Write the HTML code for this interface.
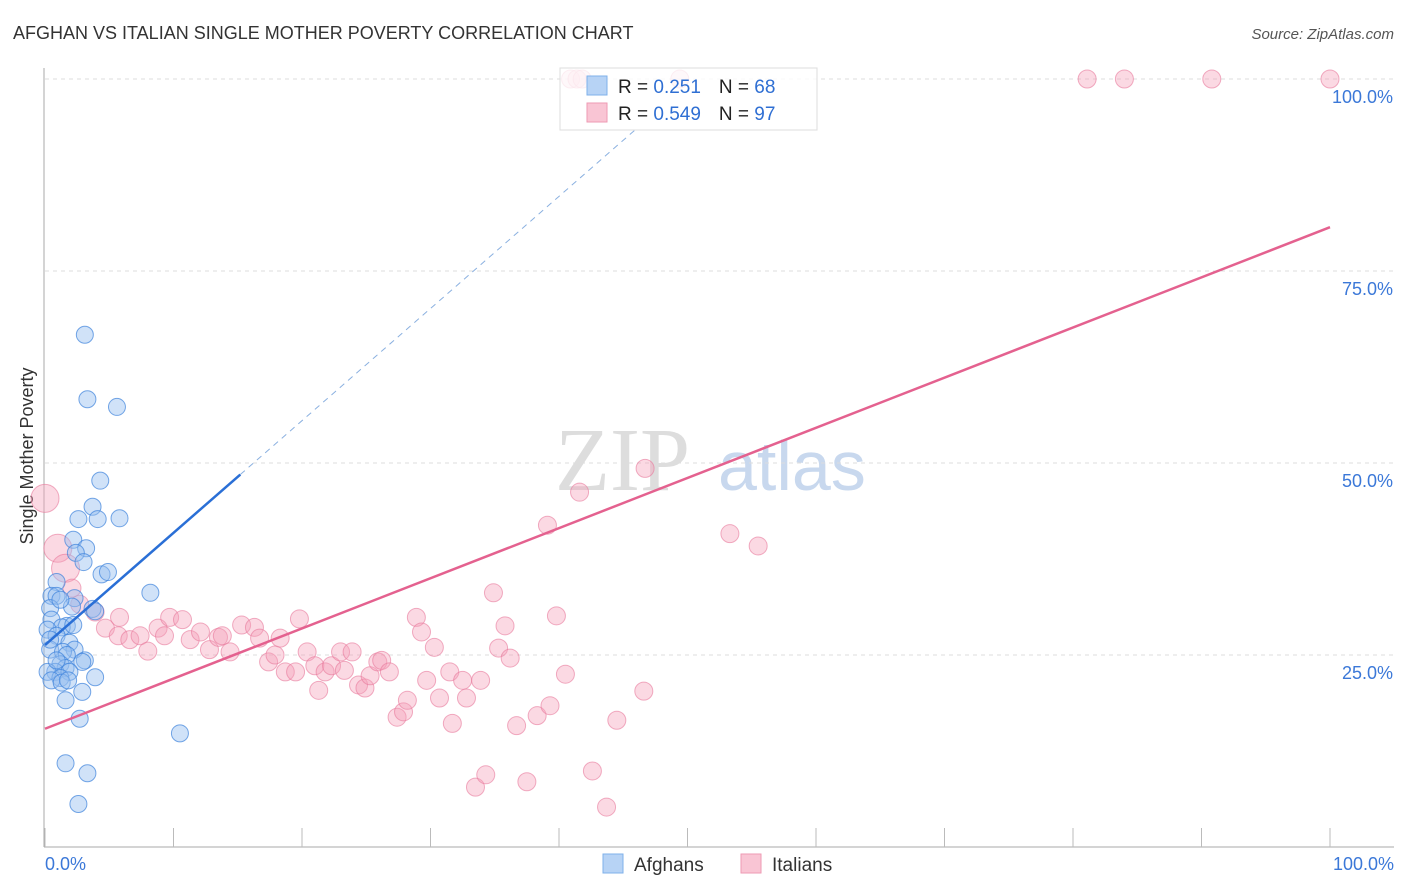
<!DOCTYPE html>
<html><head><meta charset="utf-8"><style>
body{margin:0;background:#fff;font-family:"Liberation Sans",sans-serif;}
svg{display:block}
</style></head><body>
<svg id="chart" width="1406" height="892">
<text x="13" y="39" font-size="18" fill="#333">AFGHAN VS ITALIAN SINGLE MOTHER POVERTY CORRELATION CHART</text>
<text x="1394" y="39" font-size="15" fill="#555" font-style="italic" text-anchor="end">Source: ZipAtlas.com</text>
<text x="33" y="456" font-size="18" fill="#333" transform="rotate(-90 33 456)" text-anchor="middle">Single Mother Poverty</text>
<text x="555" y="490" font-size="90" fill="#ddd" font-family="Liberation Serif">ZIP</text>
<text x="718" y="490" font-size="70" fill="#c8d8ee">atlas</text>
<g id="grid"></g><g id="pts"></g><g id="lines"></g>
<g>
<rect x="560" y="68" width="257" height="62" fill="#fff" fill-opacity="0.8" stroke="#ddd"/>
<rect x="587" y="76" width="20" height="19" fill="#b7d3f5" stroke="#7fb0ea"/>
<rect x="587" y="103" width="20" height="19" fill="#f9c5d4" stroke="#ee9ab3"/>
<text x="618" y="93" font-size="19" fill="#222">R = <tspan fill="#2f6fd3"> 0.251</tspan><tspan dx="18">N = </tspan><tspan fill="#2f6fd3">68</tspan></text>
<text x="618" y="120" font-size="19" fill="#222">R = <tspan fill="#2f6fd3">0.549</tspan><tspan dx="18">N = </tspan><tspan fill="#2f6fd3">97</tspan></text>
</g>
<g>
<rect x="603" y="854" width="20" height="19" fill="#b7d3f5" stroke="#7fb0ea"/>
<text x="634" y="871" font-size="19" fill="#333">Afghans</text>
<rect x="741" y="854" width="20" height="19" fill="#f9c5d4" stroke="#ee9ab3"/>
<text x="772" y="871" font-size="19" fill="#333">Italians</text>
</g>
</svg>
<script>
const yTicks=[25,50,75,100];
const yTickLabels=["25.0%","50.0%","75.0%","100.0%"];
const xTickVals=[0,10,20,30,40,50,60,70,80,90,100];
const afgX=[3.1,3.3,5.6,4.3,3.7,2.6,4.1,5.8,2.2,3.2,2.4,3.0,4.4,4.9,8.2,0.9,0.5,0.9,2.3,2.1,3.7,3.9,0.4,0.5,1.7,1.3,0.2,0.9,1.9,2.3,0.4,1.4,1.7,3.1,1.2,1.6,2.9,0.8,1.9,0.2,1.2,0.5,1.3,3.9,1.8,2.9,1.6,2.7,10.5,1.6,3.3,2.6,0.9,0.4,2.2,1.2];
const afgY=[66.7,58.3,57.3,47.7,44.3,42.7,42.7,42.8,40.0,38.9,38.3,37.1,35.5,35.8,33.1,34.5,32.7,32.7,32.4,31.3,31.0,30.7,31.1,29.6,28.8,28.6,28.3,27.5,26.6,25.7,25.7,25.4,25.0,24.3,23.8,23.3,24.1,22.8,22.8,22.8,22.0,21.7,21.4,22.1,21.7,20.2,19.1,16.7,14.8,10.9,9.6,5.6,24.3,27.0,28.9,32.2];
const itaX=[0,1.0,1.6,2.1,2.7,3.9,4.7,5.8,5.7,6.6,7.4,8.8,8.0,9.7,10.7,9.3,11.3,12.1,12.8,13.5,13.8,14.4,15.3,16.3,16.7,18.3,17.4,17.9,18.7,19.5,19.8,20.4,21.0,21.3,21.8,22.3,23.0,23.3,23.9,24.4,24.9,25.3,25.9,26.2,26.8,27.4,27.9,28.2,28.9,29.3,30.3,29.7,30.7,31.5,31.7,32.5,32.8,33.9,34.9,35.3,35.8,36.2,33.5,34.3,36.7,37.5,38.3,39.3,39.1,39.8,40.5,41.6,42.6,43.7,44.5,46.6,46.7,53.3,55.5,40.9,41.4,41.8,49.4,81.1,84.0,90.8,100];
const itaY=[45.4,38.9,36.3,33.7,31.6,30.6,28.5,29.9,27.5,27.0,27.5,28.5,25.5,29.9,29.6,27.5,27.0,28.0,25.7,27.3,27.5,25.4,28.9,28.6,27.2,27.2,24.1,25.0,22.8,22.8,29.7,25.4,23.6,20.4,22.8,23.6,25.4,23.0,25.4,21.1,20.7,22.3,24.1,24.3,22.8,16.9,17.6,19.1,29.9,28.0,26.0,21.7,19.4,22.8,16.1,21.7,19.4,21.7,33.1,25.9,28.8,24.6,7.8,9.4,15.8,8.5,17.1,18.4,41.9,30.1,22.5,46.2,9.9,5.2,16.5,20.3,49.3,40.8,39.2,100,100,100,100,100,100,100,100];
const afgTrend=[26.3,48.5];
const afgTrendX=[0,15.2,46];
const itaTrend=[15.4,80.7];
const NS="http://www.w3.org/2000/svg";
const X=v=>45+v*12.85, Y=v=>847-v*7.68;
function mk(t,a,p){const e=document.createElementNS(NS,t);for(const k in a)e.setAttribute(k,a[k]);p.appendChild(e);return e;}
const g=document.getElementById('grid');
yTicks.forEach((t,i)=>{
 const l=mk('line',{x1:45,x2:1394,y1:Y(t),y2:Y(t),stroke:'#ddd','stroke-dasharray':'4,4'},g);
 
 
 const tx=mk('text',{x:1393,y:Y(t)+24,'font-size':18,fill:'#3b78d8','text-anchor':'end'},g);
 tx.textContent=yTickLabels[i];
 
 
});
const ax=mk('line',{x1:44,x2:44,y1:68,y2:847,stroke:'#aaa'},g);


const bx=mk('line',{x1:44,x2:1394,y1:847,y2:847,stroke:'#aaa'},g);


xTickVals.forEach(t=>{
 const l=mk('line',{x1:X(t),x2:X(t),y1:828,y2:847,stroke:'#bbb'},g);
 
 
});
[[0,"0.0%",'start',45],[100,"100.0%",'end',1394]].forEach(a=>{
 const tx=mk('text',{x:a[3],y:870,'font-size':18,fill:'#3b78d8','text-anchor':a[2]},g);
 tx.textContent=a[1];
 
 
});
const p=document.getElementById('pts');
itaX.forEach((x,i)=>{
 const c=mk('circle',{cx:X(x),cy:Y(itaY[i]),r:i<3?14:9,fill:'rgba(245,160,185,0.4)',stroke:'rgba(232,120,155,0.6)'},p);
 
 
});
afgX.forEach((x,i)=>{
 const c=mk('circle',{cx:X(x),cy:Y(afgY[i]),r:8.5,fill:'rgba(150,190,240,0.45)',stroke:'rgba(60,130,220,0.7)'},p);
 
 
});
const L=document.getElementById('lines');
const slope=(afgTrend[1]-afgTrend[0])/afgTrendX[1];
const a1=mk('line',{x1:X(0),y1:Y(afgTrend[0]),x2:X(afgTrendX[1]),y2:Y(afgTrend[1]),stroke:'#2a6fd6','stroke-width':2.5},L);


const a2=mk('line',{x1:X(afgTrendX[1]),y1:Y(afgTrend[1]),x2:X(afgTrendX[2]),y2:Y(afgTrend[0]+slope*afgTrendX[2]),stroke:'#8ab0e0','stroke-width':1,'stroke-dasharray':'6,5'},L);


const i1=mk('line',{x1:X(0),y1:Y(itaTrend[0]),x2:X(100),y2:Y(itaTrend[1]),stroke:'#e4618f','stroke-width':2.5},L);


</script>
</body></html>
